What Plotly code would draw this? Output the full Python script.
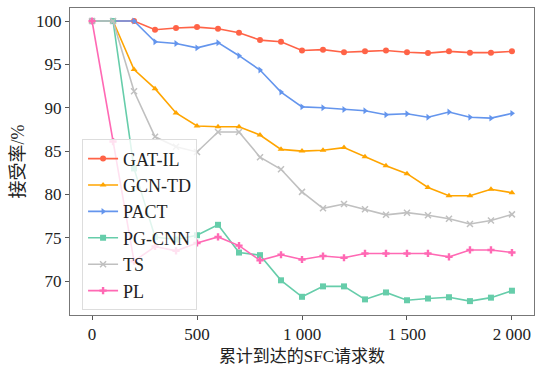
import plotly.graph_objects as go

x_vals = list(range(0, 2001, 100))

gat_il = [100, 100, 100, 99.0, 99.2, 99.3, 99.1, 98.65, 97.8, 97.6, 96.6,
          96.7, 96.4, 96.5, 96.6, 96.4, 96.3, 96.5, 96.35, 96.35, 96.5]
gcn_td = [100, 100, 94.4, 92.2, 89.4, 87.9, 87.8, 87.8, 86.85, 85.2, 85.0,
          85.1, 85.4, 84.35, 83.3, 82.4, 80.8, 79.85, 79.85, 80.6, 80.2]
pact = [100, 100, 100, 97.6, 97.4, 96.9, 97.5, 96.0, 94.35, 91.8, 90.1,
        90.0, 89.8, 89.65, 89.2, 89.3, 88.9, 89.5, 88.9, 88.8, 89.35]
pg_cnn = [100, 100, 83.0, 75.1, 74.8, 75.3, 76.5, 73.3, 73.0, 70.1, 68.2,
          69.4, 69.4, 67.9, 68.7, 67.8, 68.0, 68.15, 67.7, 68.1, 68.9]
ts = [100, 100, 91.9, 86.65, 85.5, 84.9, 87.2, 87.2, 84.3, 82.9, 80.3,
      78.4, 78.9, 78.3, 77.65, 77.9, 77.6, 77.2, 76.6, 77.0, 77.7]
pl = [100, 86.1, 72.3, 74.0, 73.5, 74.4, 75.1, 74.1, 72.4, 73.05, 72.5,
      72.9, 72.7, 73.2, 73.2, 73.2, 73.2, 72.8, 73.6, 73.6, 73.3]

series = [
    ("GAT-IL", gat_il, "#FF6347", "circle"),
    ("GCN-TD", gcn_td, "#FFA500", "triangle-up"),
    ("PACT", pact, "#6495ED", "triangle-right"),
    ("PG-CNN", pg_cnn, "#66CDAA", "square"),
    ("TS", ts, "#C0C0C0", "x-thin"),
    ("PL", pl, "#FF69B4", "cross"),
]

x_tickvals = [0, 500, 1000, 1500, 2000]
x_ticktext = ["0", "500", "1 000", "1 500", "2 000"]
y_tickvals = [70, 75, 80, 85, 90, 95, 100]

serif = "Times New Roman, Liberation Serif, serif"
mixed = "Times New Roman, Liberation Serif, Noto Sans CJK SC, serif"

fig = go.Figure()
for name, vals, color, sym in series:
    marker = dict(symbol=sym, size=6, color=color)
    if sym == "x-thin":
        marker["line"] = dict(color=color, width=1.5)
    fig.add_trace(go.Scatter(
        x=x_vals, y=vals, name=name, mode="lines+markers",
        line=dict(color=color, width=1.6), marker=marker,
    ))

axis_common = dict(
    showline=True, linecolor="#777777", linewidth=1, mirror=True,
    ticks="outside", ticklen=4, tickcolor="#555555",
    showgrid=False, zeroline=False, automargin=False,
    tickfont=dict(family=serif, size=17, color="#222222"),
)

fig.update_layout(
    width=543, height=366,
    margin=dict(l=70, r=9, t=8, b=51),
    paper_bgcolor="white", plot_bgcolor="white",
    font=dict(family=mixed, color="#222222"),
    xaxis=dict(range=[-105, 2105], tickvals=x_tickvals, ticktext=x_ticktext,
               title=dict(text="累计到达的SFC请求数", font=dict(family=mixed, size=17), standoff=10),
               **axis_common),
    yaxis=dict(range=[66.1, 101.5], tickvals=y_tickvals,
               title=dict(text="接受率/%", font=dict(family=mixed, size=18), standoff=6),
               **axis_common),
    legend=dict(x=0.026, y=0.015, xanchor="left", yanchor="bottom",
                bgcolor="rgba(255,255,255,0.8)", bordercolor="#dddddd", borderwidth=1,
                font=dict(family=serif, size=18), tracegroupgap=0,
                itemwidth=30),
    showlegend=True,
)

fig.write_html("out.html", config={"displayModeBar": False},
               post_script="document.body.style.margin='0';")
